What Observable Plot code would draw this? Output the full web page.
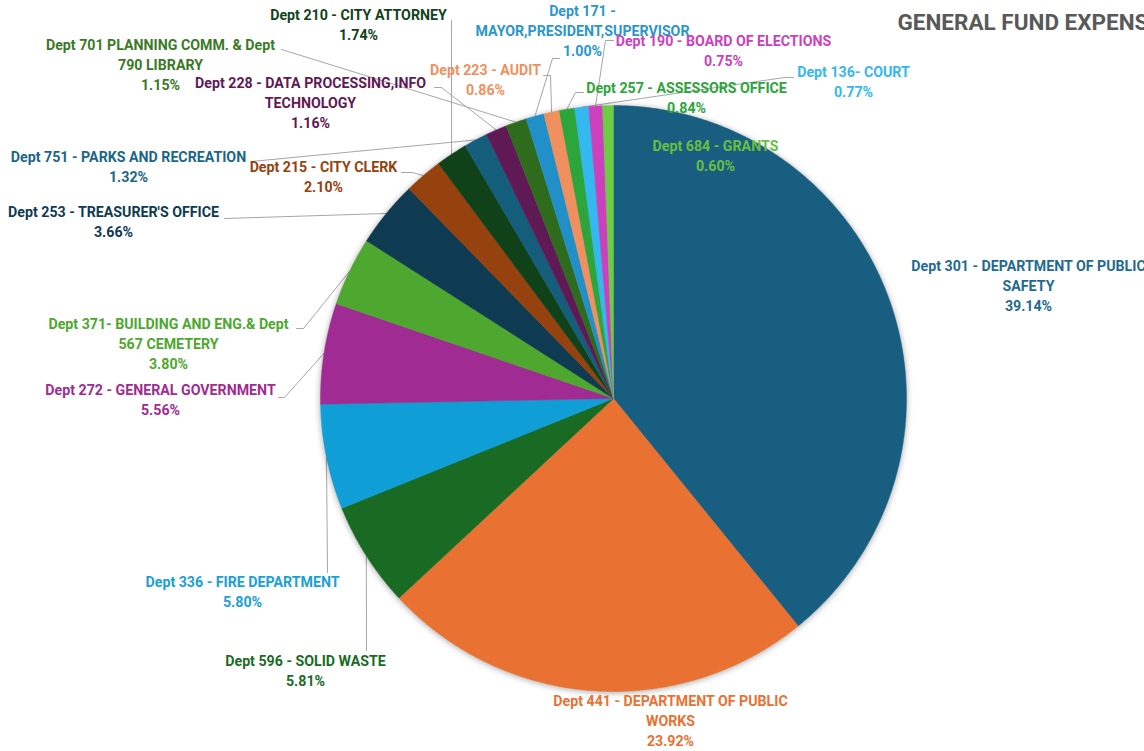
<!DOCTYPE html>
<html><head><meta charset="utf-8">
<script src="https://cdn.jsdelivr.net/npm/d3@7"></script>
<script src="https://cdn.jsdelivr.net/npm/@observablehq/plot@0.6"></script>
<style>
html,body{margin:0;padding:0;background:#fff;overflow:hidden;width:1144px;height:751px}
#chart svg{overflow:hidden}
</style>
</head><body><div id="chart"></div>
<script>
// ---------- DATA ----------
const title = "GENERAL FUND EXPENSES";
const depts = [
  "Dept 301 - DEPARTMENT OF PUBLIC\nSAFETY",
  "Dept 441 - DEPARTMENT OF PUBLIC\nWORKS",
  "Dept 596 - SOLID WASTE",
  "Dept 336 - FIRE DEPARTMENT",
  "Dept 272 - GENERAL GOVERNMENT",
  "Dept 371- BUILDING AND ENG.& Dept\n567 CEMETERY",
  "Dept 253 - TREASURER'S OFFICE",
  "Dept 215 - CITY CLERK",
  "Dept 210 - CITY ATTORNEY",
  "Dept 751 - PARKS AND RECREATION",
  "Dept 228 - DATA PROCESSING,INFO\nTECHNOLOGY",
  "Dept 701 PLANNING COMM. & Dept\n790 LIBRARY",
  "Dept 171 -\nMAYOR,PRESIDENT,SUPERVISOR",
  "Dept 223 - AUDIT",
  "Dept 257 - ASSESSORS OFFICE",
  "Dept 136- COURT",
  "Dept 190 - BOARD OF ELECTIONS",
  "Dept 684 - GRANTS"
];
const shares = [39.14, 23.92, 5.81, 5.80, 5.56, 3.80, 3.66, 2.10, 1.74, 1.32, 1.16, 1.15, 1.00, 0.86, 0.84, 0.77, 0.75, 0.60];

// ---------- STYLE / LAYOUT ----------
const palette = ["#185e80","#e97132","#196b24","#0f9ed5","#a02b93","#4ea72e","#0e3a52","#96420f",
  "#10421a","#145d7b","#5f1a56","#2e6b1c","#2190c9","#f0905e","#2ca53b","#33b8ef","#cc3fbd","#6ccc44"];
const textPalette = ["#1f6a8f","#e97132","#196b24","#1aa0d8","#a02b93","#4ea72e","#0e3a52","#96420f",
  "#10421a","#1a6688","#5f1a56","#3a7a26","#2a96cc","#f0905e","#2ca53b","#33b8ef","#cc3fbd","#6abf3f"];
const W = 1144, H = 751, cx = 613, cy = 398, R = 293;
// label block centre [x, y] and leader path points from the label side
const labelLayout = [
  {at:[1028,284], lead:null},
  {at:[670,719], lead:null},
  {at:[305,669], lead:[[366,650]]},
  {at:[242,590], lead:[[327,572]]},
  {at:[160,398], lead:[[278,397],[284,397]]},
  {at:[168,342], lead:[[296,328],[303,328]]},
  {at:[113,220], lead:[[224,218]]},
  {at:[323,175], lead:[[401,172],[412,172]]},
  {at:[358,23],  lead:[[451,20]]},
  {at:[128,165], lead:[[251,161]]},
  {at:[310,101], lead:[[434,87],[441,87]]},
  {at:[160,63],  lead:[[281,49]]},
  {at:[582,29],  lead:[[559,58],[552,58]]},
  {at:[485,78],  lead:[[543,75],[550,75]]},
  {at:[686,96],  lead:[[583,92],[575,92]]},
  {at:[853,80],  lead:[[793,77],[784,77]]},
  {at:[723,49],  lead:[[613,40],[605,40]]},
  {at:[715,154], lead:null}
];

// ---------- GEOMETRY ----------
const arcs = d3.pie().sort(null).value(d => d.share)(depts.map((dept, i) => ({dept, share: shares[i], i})));
const polar = (a, r) => [cx + r * Math.sin(a), cy - r * Math.cos(a)];

const slicePts = [];
arcs.forEach(a => {
  const dept = a.data.dept;
  slicePts.push({dept, x: cx, y: cy});
  const n = Math.max(2, Math.ceil((a.endAngle - a.startAngle) / 0.005));
  for (let k = 0; k <= n; k++) {
    const t = a.startAngle + (a.endAngle - a.startAngle) * k / n;
    const [x, y] = polar(t, R);
    slicePts.push({dept, x, y});
  }
  slicePts.push({dept, x: cx, y: cy});
});

const leaderPts = [];
arcs.forEach((a, i) => {
  const L = labelLayout[i];
  if (!L.lead) return;
  const dept = a.data.dept;
  L.lead.forEach(([x, y]) => leaderPts.push({dept, x, y}));
  const [ex, ey] = polar((a.startAngle + a.endAngle) / 2, R);
  leaderPts.push({dept, x: ex, y: ey});
});

const labels = arcs.map((a, i) => ({
  dept: a.data.dept,
  x: labelLayout[i].at[0],
  y: labelLayout[i].at[1],
  text: a.data.dept + "\n" + a.data.share.toFixed(2) + "%",
  color: textPalette[i]
}));

const chart = Plot.plot({
  width: W, height: H,
  margin: 0,
  x: {domain: [0, W], range: [0, W], axis: null},
  y: {domain: [0, H], range: [0, H], axis: null},
  color: {domain: depts, range: palette},
  style: {fontFamily: "Roboto, sans-serif", background: "#fff"},
  marks: [
    Plot.line(leaderPts, {x: "x", y: "y", z: "dept", stroke: "#a6a6a6", strokeWidth: 1}),
    Plot.line(slicePts, {x: "x", y: "y", z: "dept", fill: "dept", stroke: "dept", strokeWidth: 0.4, curve: "linear"}),
    Plot.text(labels, {x: "x", y: "y", text: "text", fill: "color", fontSize: 14.2, fontWeight: 700,
      lineHeight: 1.41, textAnchor: "middle", lineAnchor: "middle"}),
    Plot.text([title], {x: () => 897, y: () => 22, text: d => d, textAnchor: "start", fontSize: 22.5,
      fontWeight: 700, fill: "#595959"})
  ]
});
document.getElementById("chart").appendChild(chart);
// soft shadow around the pie
const groups = chart.querySelectorAll("g[aria-label='line']");
if (groups.length > 1) groups[1].style.filter = "drop-shadow(0px 1px 3px rgba(0,0,0,0.35))";
</script>
</body></html>
